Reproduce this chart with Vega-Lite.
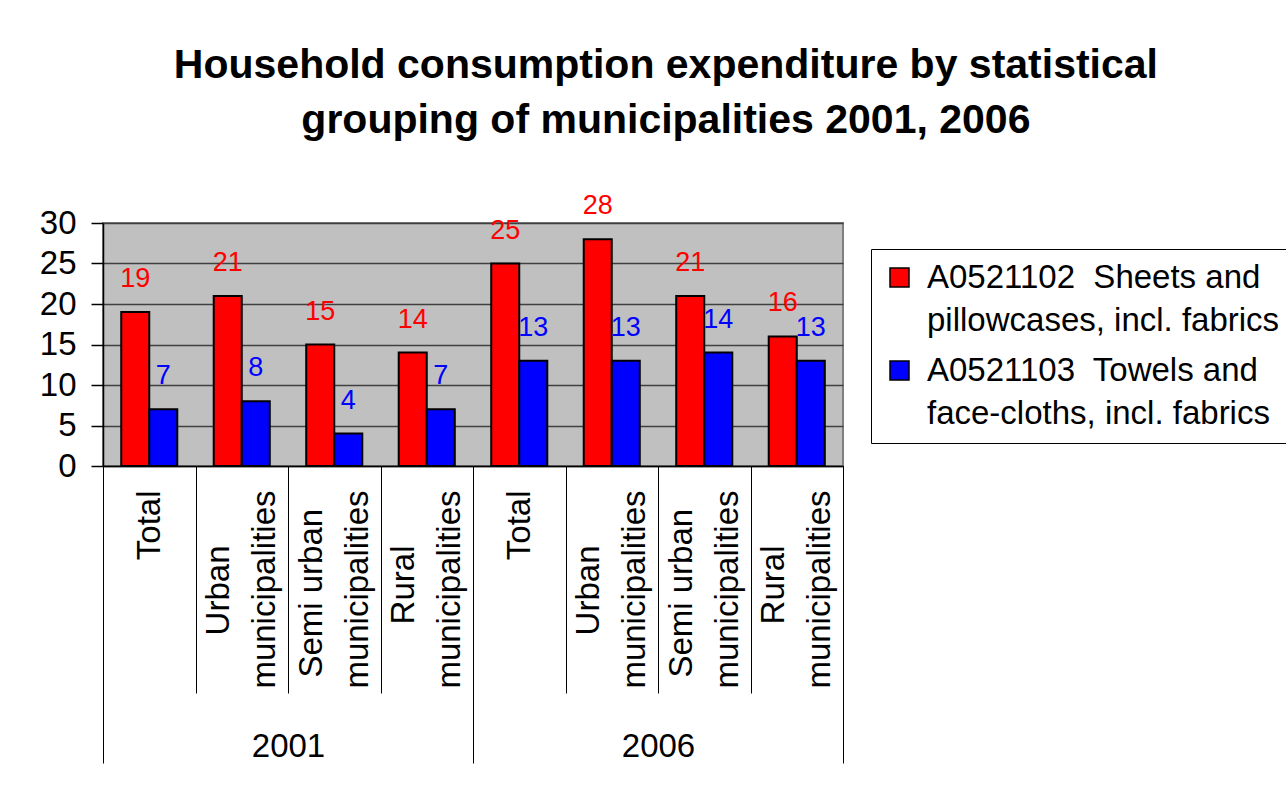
{
  "$schema": "https://vega.github.io/schema/vega-lite/v6.json",
  "width": 740,
  "height": 243,
  "padding": {"left": 39, "top": 45, "right": 0, "bottom": 0},
  "background": "white",
  "title": {
    "text": ["Household consumption expenditure by statistical", "grouping of municipalities 2001, 2006"],
    "font": "Liberation Sans",
    "fontSize": 41,
    "fontWeight": "bold",
    "lineHeight": 55,
    "color": "black",
    "anchor": "middle",
    "frame": "bounds",
    "offset": 50
  },
  "config": {
    "font": "Liberation Sans",
    "view": {"fill": "#C0C0C0", "stroke": "#808080", "strokeWidth": 2}
  },
  "data": {
    "values": [
      {"year": "2001", "group": "Total", "category": "2001 Total", "series": "A0521102  Sheets and pillowcases, incl. fabrics", "value": 19},
      {"year": "2001", "group": "Total", "category": "2001 Total", "series": "A0521103  Towels and face-cloths, incl. fabrics", "value": 7},
      {"year": "2001", "group": "Urban municipalities", "category": "2001 Urban municipalities", "series": "A0521102  Sheets and pillowcases, incl. fabrics", "value": 21},
      {"year": "2001", "group": "Urban municipalities", "category": "2001 Urban municipalities", "series": "A0521103  Towels and face-cloths, incl. fabrics", "value": 8},
      {"year": "2001", "group": "Semi urban municipalities", "category": "2001 Semi urban municipalities", "series": "A0521102  Sheets and pillowcases, incl. fabrics", "value": 15},
      {"year": "2001", "group": "Semi urban municipalities", "category": "2001 Semi urban municipalities", "series": "A0521103  Towels and face-cloths, incl. fabrics", "value": 4},
      {"year": "2001", "group": "Rural municipalities", "category": "2001 Rural municipalities", "series": "A0521102  Sheets and pillowcases, incl. fabrics", "value": 14},
      {"year": "2001", "group": "Rural municipalities", "category": "2001 Rural municipalities", "series": "A0521103  Towels and face-cloths, incl. fabrics", "value": 7},
      {"year": "2006", "group": "Total", "category": "2006 Total", "series": "A0521102  Sheets and pillowcases, incl. fabrics", "value": 25},
      {"year": "2006", "group": "Total", "category": "2006 Total", "series": "A0521103  Towels and face-cloths, incl. fabrics", "value": 13},
      {"year": "2006", "group": "Urban municipalities", "category": "2006 Urban municipalities", "series": "A0521102  Sheets and pillowcases, incl. fabrics", "value": 28},
      {"year": "2006", "group": "Urban municipalities", "category": "2006 Urban municipalities", "series": "A0521103  Towels and face-cloths, incl. fabrics", "value": 13},
      {"year": "2006", "group": "Semi urban municipalities", "category": "2006 Semi urban municipalities", "series": "A0521102  Sheets and pillowcases, incl. fabrics", "value": 21},
      {"year": "2006", "group": "Semi urban municipalities", "category": "2006 Semi urban municipalities", "series": "A0521103  Towels and face-cloths, incl. fabrics", "value": 14},
      {"year": "2006", "group": "Rural municipalities", "category": "2006 Rural municipalities", "series": "A0521102  Sheets and pillowcases, incl. fabrics", "value": 16},
      {"year": "2006", "group": "Rural municipalities", "category": "2006 Rural municipalities", "series": "A0521103  Towels and face-cloths, incl. fabrics", "value": 13}
    ]
  },
  "layer": [
    {
      "layer": [
        {
          "mark": {"type": "bar", "stroke": "black", "strokeWidth": 2},
          "encoding": {
            "x": {
              "field": "category", "type": "nominal", "sort": null,
              "scale": {"paddingInner": 0, "paddingOuter": 0},
              "axis": {
                "title": null, "orient": "bottom",
                "labelAngle": -90, "labelAlign": "right", "labelBaseline": "middle",
                "labelFontSize": 33, "labelColor": "black", "labelLineHeight": 23,
                "labelPadding": -203, "labelOffset": -23,
                "tickSize": 227, "tickBand": "extent",
                "tickColor": "black", "tickWidth": 1,
                "domainColor": "black", "domainWidth": 1.5,
                "labelLimit": 0, "labelOverlap": false, "labelFlush": false,
                "labelExpr": "indexof(datum.label, ' municipalities') >= 0 ? [replace(slice(datum.label, 5), ' municipalities', '') + (indexof(datum.label, 'Semi') >= 0 ? '\u00a0\u00a0\u200b' : '\u00a0\u00a0\u00a0\u00a0\u00a0\u00a0\u200b'), '\u00a0\u200b', 'municipalities'] : ['\u00a0\u200b', slice(datum.label, 5)]"
              }
            },
            "xOffset": {"field": "series", "type": "nominal", "sort": null, "scale": {"paddingInner": 0, "paddingOuter": 0.65}},
            "y": {
              "field": "value", "type": "quantitative",
              "scale": {"domain": [0, 30], "nice": false},
              "axis": {
                "title": null, "values": [0, 5, 10, 15, 20, 25, 30],
                "tickSize": 12, "labelPadding": 15, "labelFontSize": 33, "labelColor": "black",
                "grid": true, "gridColor": "#404040", "gridWidth": 1.5,
                "domainColor": "black", "domainWidth": 1.5, "tickColor": "black", "tickWidth": 1.5
              }
            },
            "color": {
              "field": "series", "type": "nominal", "sort": null,
              "scale": {"domain": ["A0521102  Sheets and pillowcases, incl. fabrics", "A0521103  Towels and face-cloths, incl. fabrics"], "range": ["#FF0000", "#0000FF"]},
              "legend": {
                "orient": "none", "legendX": 768, "legendY": 26, "title": null,
                "labelFontSize": 33, "labelColor": "black", "labelLimit": 0,
                "symbolType": "square", "symbolSize": 361, "symbolStrokeColor": "black", "symbolStrokeWidth": 1.5, "symbolOpacity": 1,
                "strokeColor": "black", "fillColor": "white", "padding": 12, "labelOffset": 11, "rowPadding": 16,
                "labelExpr": "split(replace(replace(datum.label, '  ', '\u00a0 '), ' and ', ' and|'), '|')",
                "encode": {"labels": {"update": {"lineHeight": {"value": 43}}}}
              }
            }
          }
        },
        {
          "mark": {"type": "text", "baseline": "bottom", "dy": -19, "fontSize": 27},
          "encoding": {
            "x": {"field": "category", "type": "nominal", "sort": null},
            "xOffset": {"field": "series", "type": "nominal", "sort": null},
            "y": {"field": "value", "type": "quantitative"},
            "text": {"field": "value", "type": "quantitative"},
            "color": {"field": "series", "type": "nominal", "sort": null}
          }
        }
      ]
    },
    {
      "mark": {"type": "tick", "opacity": 0},
      "encoding": {
        "x": {
          "field": "year", "type": "nominal", "sort": null,
          "scale": {"paddingInner": 0, "paddingOuter": 0},
          "axis": {
            "title": null, "orient": "bottom", "labelAngle": 0, "labelAlign": "center", "labelBaseline": "top",
            "labelFontSize": 33, "labelColor": "black", "labelPadding": -33,
            "tickSize": 297, "tickBand": "extent", "tickColor": "black", "tickWidth": 1,
            "domain": false
          }
        }
      }
    }
  ],
  "resolve": {"scale": {"x": "independent"}}
}
